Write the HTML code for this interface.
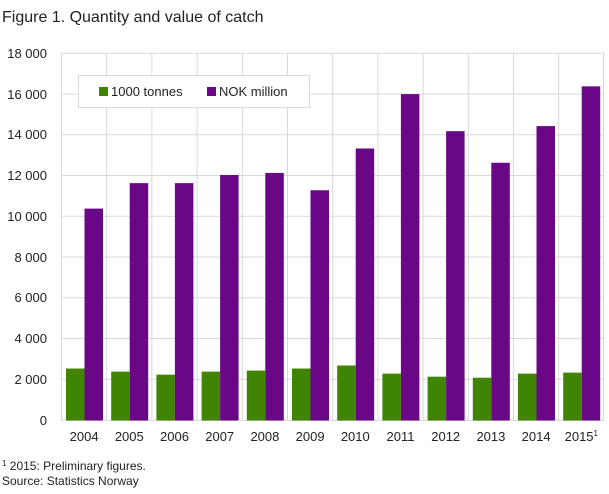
<!DOCTYPE html>
<html><head><meta charset="utf-8"><style>
body{margin:0;background:#fff;width:609px;height:489px;overflow:hidden;font-family:"Liberation Sans","DejaVu Sans",sans-serif;}
</style></head><body>
<svg width="609" height="489" xmlns="http://www.w3.org/2000/svg" font-family="Liberation Sans, DejaVu Sans, sans-serif">
<text x="2" y="22" font-size="16" fill="#222">Figure 1. Quantity and value of catch</text>
<g stroke="#d9d9d9" stroke-width="1">
<line x1="61" y1="53.3" x2="604" y2="53.3"/>
<line x1="61" y1="94" x2="604" y2="94"/>
<line x1="61" y1="134.8" x2="604" y2="134.8"/>
<line x1="61" y1="175.5" x2="604" y2="175.5"/>
<line x1="61" y1="216.3" x2="604" y2="216.3"/>
<line x1="61" y1="257" x2="604" y2="257"/>
<line x1="61" y1="297.8" x2="604" y2="297.8"/>
<line x1="61" y1="338.5" x2="604" y2="338.5"/>
<line x1="61" y1="379.3" x2="604" y2="379.3"/>
<line x1="61" y1="420.5" x2="604" y2="420.5"/>
<line x1="61.5" y1="53" x2="61.5" y2="420"/>
<line x1="106.7" y1="53" x2="106.7" y2="420"/>
<line x1="151.9" y1="53" x2="151.9" y2="420"/>
<line x1="197.1" y1="53" x2="197.1" y2="420"/>
<line x1="242.3" y1="53" x2="242.3" y2="420"/>
<line x1="287.5" y1="53" x2="287.5" y2="420"/>
<line x1="332.7" y1="53" x2="332.7" y2="420"/>
<line x1="377.9" y1="53" x2="377.9" y2="420"/>
<line x1="423.1" y1="53" x2="423.1" y2="420"/>
<line x1="468.3" y1="53" x2="468.3" y2="420"/>
<line x1="513.5" y1="53" x2="513.5" y2="420"/>
<line x1="558.7" y1="53" x2="558.7" y2="420"/>
<line x1="603.5" y1="53" x2="603.5" y2="420"/>
</g>
<g id="bars"></g>
<rect x="78.5" y="75.5" width="231" height="32" fill="#fff" stroke="#d9d9d9"/>
<rect x="99" y="87" width="9" height="9" fill="#3f8402"/>
<text x="111" y="96" font-size="13" fill="#222">1000 tonnes</text>
<rect x="207" y="87" width="9" height="9" fill="#6a0787"/>
<text x="219" y="96" font-size="13" fill="#222">NOK million</text>
<g font-size="13" fill="#222" text-anchor="end">
<text x="47" y="58">18 000</text><text x="47" y="99">16 000</text><text x="47" y="139">14 000</text>
<text x="47" y="180">12 000</text><text x="47" y="221">10 000</text><text x="47" y="262">8 000</text>
<text x="47" y="302">6 000</text><text x="47" y="343">4 000</text><text x="47" y="384">2 000</text>
<text x="47" y="425">0</text>
</g>
<g font-size="13" fill="#222" text-anchor="middle" id="xl"></g>
<text x="2" y="470" font-size="12" fill="#222"><tspan font-size="8" dy="-4">1</tspan><tspan dy="4"> 2015: Preliminary figures.</tspan></text>
<text x="2" y="485" font-size="12" fill="#222">Source: Statistics Norway</text>
</svg>
<script>
var g=[2550,2400,2250,2400,2450,2550,2700,2300,2150,2100,2300,2350];
var p=[10400,11650,11650,12050,12150,11300,13350,16020,14200,12650,14450,16400];
var ns="http://www.w3.org/2000/svg",b=document.getElementById('bars'),xl=document.getElementById('xl');
function y(v){return 420.5-v*0.020375;}
for(var i=0;i<12;i++){var x0=61.5+i*45.2+4.5;
[[g[i],'#3f8402',0],[p[i],'#6a0787',18.5]].forEach(function(a){var r=document.createElementNS(ns,'rect');
r.setAttribute('x',x0+a[2]);r.setAttribute('width',18.5);r.setAttribute('y',y(a[0]));r.setAttribute('height',420.5-y(a[0]));r.setAttribute('fill',a[1]);b.appendChild(r);});
var t=document.createElementNS(ns,'text');t.setAttribute('x',61.5+i*45.2+22.6);t.setAttribute('y',441);
t.textContent=String(2004+i);if(i==11){var s=document.createElementNS(ns,'tspan');s.setAttribute('font-size','8');s.setAttribute('dy','-5');s.textContent='1';t.appendChild(s);}xl.appendChild(t);}
</script>
</body></html>
